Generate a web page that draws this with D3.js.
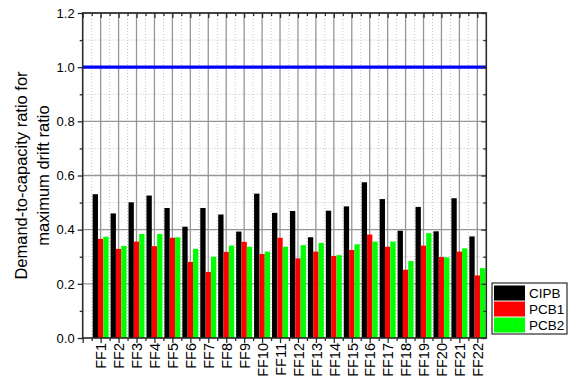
<!DOCTYPE html>
<html>
<head>
<meta charset="utf-8">
<script src="https://cdn.jsdelivr.net/npm/d3@7"></script>
<style>
  html, body { margin: 0; padding: 0; background: #fff; }
  svg, svg text { font-family: "Liberation Sans", Arial, sans-serif; }
  svg { display: block; }
</style>
</head>
<body>
<svg id="chart" width="576" height="385"></svg>
<script>
// Ground-motion records
const categories = ["FF1","FF2","FF3","FF4","FF5","FF6","FF7","FF8","FF9","FF10","FF11",
                    "FF12","FF13","FF14","FF15","FF16","FF17","FF18","FF19","FF20","FF21","FF22"];

// Demand-to-capacity ratio for maximum drift ratio, per system
const cipb = [0.531,0.460,0.501,0.526,0.480,0.411,0.480,0.456,0.393,0.533,0.462,
              0.469,0.372,0.470,0.486,0.575,0.513,0.396,0.484,0.394,0.516,0.375];
const pcb1 = [0.366,0.329,0.356,0.339,0.370,0.281,0.244,0.318,0.355,0.310,0.370,
              0.294,0.319,0.303,0.325,0.382,0.337,0.252,0.341,0.299,0.319,0.231];
const pcb2 = [0.374,0.340,0.384,0.384,0.372,0.329,0.300,0.341,0.337,0.319,0.337,
              0.343,0.351,0.306,0.346,0.356,0.356,0.284,0.387,0.298,0.331,0.258];

const seriesNames = ["CIPB","PCB1","PCB2"];
const seriesColors = ["#000000","#ff0000","#00ff00"];
const limitValue = 1.0;
const yTicks = [0, 0.2, 0.4, 0.6, 0.8, 1.0, 1.2];

const svg = d3.select("#chart");
const plotL = 82.7, plotR = 486.3, plotT = 13, plotB = 338;

const x = d3.scaleLinear().domain([0, categories.length + 0.5]).range([plotL, plotR]);
const y = d3.scaleLinear().domain([0, 1.2]).range([plotB, plotT]);

// Grid: solid major lines, dotted minor lines
const grid = svg.append("g");
const xMajor = d3.range(1, categories.length + 1);
const xMinor = d3.range(0.5, categories.length + 0.5, 1);
const yMajor = yTicks.slice(1);
const yMinor = d3.range(0.1, 1.2, 0.2);

grid.selectAll(".ymin").data(yMinor).join("line")
  .attr("x1", plotL).attr("x2", plotR)
  .attr("y1", d => y(d)).attr("y2", d => y(d))
  .attr("stroke", "#c4c4c4").attr("stroke-width", 1).attr("stroke-dasharray", "1,2");
grid.selectAll(".xmin").data(xMinor).join("line")
  .attr("x1", d => x(d)).attr("x2", d => x(d))
  .attr("y1", plotT).attr("y2", plotB)
  .attr("stroke", "#c4c4c4").attr("stroke-width", 1).attr("stroke-dasharray", "1,2");
grid.selectAll(".ymaj").data(yMajor).join("line")
  .attr("x1", plotL).attr("x2", plotR)
  .attr("y1", d => y(d)).attr("y2", d => y(d))
  .attr("stroke", "#969696").attr("stroke-width", 1.3);
grid.selectAll(".xmaj").data(xMajor).join("line")
  .attr("x1", d => x(d)).attr("x2", d => x(d))
  .attr("y1", plotT).attr("y2", plotB)
  .attr("stroke", "#969696").attr("stroke-width", 1.3);

// Grouped bars
const step = x(1) - x(0);
const barW = step * 0.297;
const series = [cipb, pcb1, pcb2];
series.forEach((vals, si) => {
  svg.append("g").selectAll("rect").data(vals).join("rect")
    .attr("x", (d, i) => x(i + 1) + (si - 1.5) * barW)
    .attr("width", barW)
    .attr("y", d => y(d))
    .attr("height", d => y(0) - y(d))
    .attr("fill", seriesColors[si]);
});

// Limit line at ratio = 1.0
svg.append("line")
  .attr("x1", plotL).attr("x2", plotR)
  .attr("y1", y(limitValue)).attr("y2", y(limitValue))
  .attr("stroke", "#0000ff").attr("stroke-width", 3.2);

// Axes
const axisColor = "#2a2a2a";
const ax = svg.append("g");
const fontFam = '"Liberation Sans", Arial, sans-serif';
// bottom: major outward ticks at each record, minor between
const bottomAxis = ax.append("g").attr("transform", `translate(0,${plotB})`)
  .call(d3.axisBottom(x).tickValues(d3.range(0, categories.length + 1)).tickSize(5)
        .tickFormat(d => d >= 1 ? categories[d - 1] : ""));
bottomAxis.attr("font-family", fontFam);
bottomAxis.select(".domain").remove();
bottomAxis.selectAll("line").attr("stroke", axisColor).attr("stroke-width", 1.3);
bottomAxis.selectAll("text")
  .attr("transform", "rotate(-90)")
  .attr("text-anchor", "end")
  .attr("x", -5).attr("y", 0).attr("dy", "0.36em")
  .attr("font-size", 14.5).attr("fill", "#000");
ax.append("g").attr("transform", `translate(0,${plotB})`)
  .call(d3.axisBottom(x).tickValues(xMinor).tickSize(3).tickFormat(""))
  .call(g => g.select(".domain").remove())
  .selectAll("line").attr("stroke", axisColor).attr("stroke-width", 1.3);

// top: inward ticks
ax.append("g").attr("transform", `translate(0,${plotT})`)
  .call(d3.axisBottom(x).tickValues(d3.range(0, categories.length + 1)).tickSize(5).tickFormat(""))
  .call(g => g.select(".domain").remove())
  .selectAll("line").attr("stroke", axisColor).attr("stroke-width", 1.3);
ax.append("g").attr("transform", `translate(0,${plotT})`)
  .call(d3.axisBottom(x).tickValues(xMinor).tickSize(3).tickFormat(""))
  .call(g => g.select(".domain").remove())
  .selectAll("line").attr("stroke", axisColor).attr("stroke-width", 1.3);

// left: outward ticks with labels
const leftAxis = ax.append("g").attr("transform", `translate(${plotL},0)`)
  .call(d3.axisLeft(y).tickValues(yTicks).tickSize(5).tickPadding(3).tickFormat(d3.format(".1f")));
leftAxis.attr("font-family", fontFam);
leftAxis.select(".domain").remove();
leftAxis.selectAll("line").attr("stroke", axisColor).attr("stroke-width", 1.3);
leftAxis.selectAll("text").attr("font-size", 13).attr("fill", "#000");
ax.append("g").attr("transform", `translate(${plotL},0)`)
  .call(d3.axisLeft(y).tickValues(yMinor).tickSize(3).tickFormat(""))
  .call(g => g.select(".domain").remove())
  .selectAll("line").attr("stroke", axisColor).attr("stroke-width", 1.3);

// right: inward ticks
ax.append("g").attr("transform", `translate(${plotR},0)`)
  .call(d3.axisRight(y).tickValues(yTicks).tickSize(-5).tickFormat(""))
  .call(g => g.select(".domain").remove())
  .selectAll("line").attr("stroke", axisColor).attr("stroke-width", 1.3);
ax.append("g").attr("transform", `translate(${plotR},0)`)
  .call(d3.axisRight(y).tickValues(yMinor).tickSize(-3).tickFormat(""))
  .call(g => g.select(".domain").remove())
  .selectAll("line").attr("stroke", axisColor).attr("stroke-width", 1.3);

// frame
ax.append("rect")
  .attr("x", plotL).attr("y", plotT)
  .attr("width", plotR - plotL).attr("height", plotB - plotT)
  .attr("fill", "none").attr("stroke", axisColor).attr("stroke-width", 1.6);

// Y title
const yTitle = svg.append("text")
  .attr("transform", `translate(0,${(plotT + plotB) / 2}) rotate(-90)`)
  .attr("text-anchor", "middle")
  .attr("font-size", 16.5).attr("fill", "#000");
yTitle.append("tspan").attr("x", 0).attr("y", 27).text("Demand-to-capacity ratio for");
yTitle.append("tspan").attr("x", 0).attr("y", 49).text("maximum drift ratio");

// Legend
const lg = svg.append("g").attr("transform", "translate(492,283)");
lg.append("rect").attr("width", 75).attr("height", 51)
  .attr("fill", "#fff").attr("stroke", "#000").attr("stroke-width", 1);
seriesNames.forEach((name, i) => {
  lg.append("rect").attr("x", 2).attr("y", 2.5 + i * 16).attr("width", 31).attr("height", 15)
    .attr("fill", seriesColors[i]);
  lg.append("text").attr("x", 37).attr("y", 10 + i * 16).attr("dy", "0.36em")
    .attr("font-size", 13.5).attr("fill", "#000").text(name);
});
</script>
</body>
</html>
